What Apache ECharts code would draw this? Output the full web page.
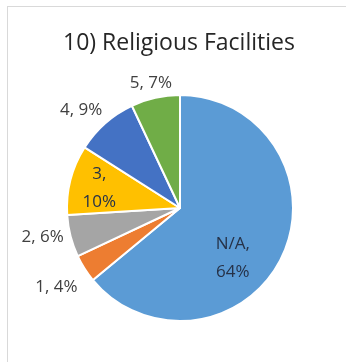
<!DOCTYPE html>
<html>
<head>
<meta charset="utf-8">
<script src="https://cdn.jsdelivr.net/npm/echarts@6/dist/echarts.min.js"></script>
<style>
  html, body { margin: 0; padding: 0; background: #ffffff; }
  #frame { position: absolute; left: 7px; top: 6px; width: 346px; height: 362px;
           border-left: 1px solid #d9d9d9; border-top: 1px solid #d9d9d9; }
  #chart { position: absolute; left: 0; top: 0; width: 346px; height: 362px; }
</style>
</head>
<body>
<div id="frame"></div>
<div id="chart"></div>
<script>
// Survey responses for religious facilities
const categories = ['N/A', '1', '2', '3', '4', '5'];
const shares = [64, 4, 6, 10, 9, 7];
const colors = ['#5B9BD5', '#ED7D31', '#A5A5A5', '#FFC000', '#4472C4', '#70AD47'];

// Labels placed inside the larger slices, outside for the rest
const insideLabels = ['N/A', '3'];
// Fine offsets for each label, in pixels
const labelNudge = {
  'N/A': [-1, 25],
  '1': [5, 15],
  '2': [6, 0],
  '3': [-23, -5],
  '4': [8, -9],
  '5': [25, -9]
};

const data = categories.map((name, i) => {
  const inside = insideLabels.includes(name);
  return {
    name: name,
    value: shares[i],
    itemStyle: { color: colors[i] },
    label: inside
      ? { position: 'inside', formatter: '{b},\n{c}%', color: '#263248', lineHeight: 28 }
      : { position: 'outside', formatter: '{b}, {c}%', color: '#404040' },
    labelLine: { show: false, length: 6, length2: 2 }
  };
});

const chart = echarts.init(document.getElementById('chart'), null, { renderer: 'canvas' });
chart.setOption({
  animation: false,
  backgroundColor: 'transparent',
  title: {
    text: '10) Religious Facilities',
    left: 58,
    top: 27,
    textStyle: { fontFamily: 'Open Sans', fontSize: 23, fontWeight: 'normal', color: '#262626' }
  },
  series: [{
    type: 'pie',
    center: [180, 208],
    radius: 113,
    startAngle: 90,
    clockwise: true,
    avoidLabelOverlap: false,
    itemStyle: { borderColor: '#ffffff', borderWidth: 2 },
    label: { fontFamily: 'Open Sans', fontSize: 17, lineHeight: 22 },
    labelLayout: function (params) {
      const n = labelNudge[categories[params.dataIndex]] || [0, 0];
      return { dx: n[0], dy: n[1] };
    },
    data: data
  }]
});
</script>
</body>
</html>
